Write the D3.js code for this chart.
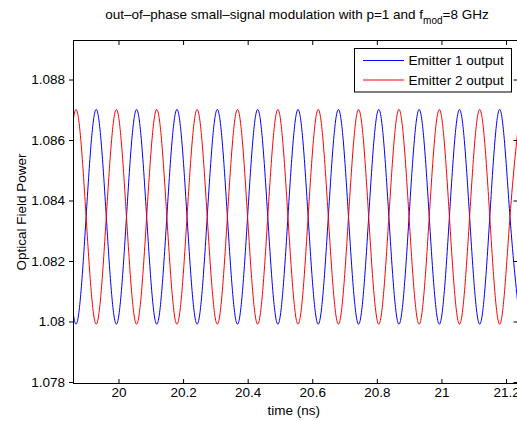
<!DOCTYPE html>
<html>
<head>
<meta charset="utf-8">
<script src="https://cdn.jsdelivr.net/npm/d3@7"></script>
<style>
  html, body { margin: 0; padding: 0; background: #fff; }
  svg { display: block; font-family: "Liberation Sans", Arial, sans-serif; }
</style>
</head>
<body>
<svg id="chart" width="517" height="421"></svg>
<script>
// Sample times (ns), one every quarter modulation period (8 GHz -> 0.125 ns)
const timeNs = [
  19.83725, 19.86850, 19.89975, 19.93100, 19.96225, 19.99350, 20.02475, 20.05600,
  20.08725, 20.11850, 20.14975, 20.18100, 20.21225, 20.24350, 20.27475, 20.30600,
  20.33725, 20.36850, 20.39975, 20.43100, 20.46225, 20.49350, 20.52475, 20.55600,
  20.58725, 20.61850, 20.64975, 20.68100, 20.71225, 20.74350, 20.77475, 20.80600,
  20.83725, 20.86850, 20.89975, 20.93100, 20.96225, 20.99350, 21.02475, 21.05600,
  21.08725, 21.11850, 21.14975, 21.18100, 21.21225, 21.24350
];

// Optical field power of emitter 1 (blue)
const emitter1 = [
  1.08346, 1.07991, 1.08346, 1.08701, 1.08346, 1.07991, 1.08346, 1.08701,
  1.08346, 1.07991, 1.08346, 1.08701, 1.08346, 1.07991, 1.08346, 1.08701,
  1.08346, 1.07991, 1.08346, 1.08701, 1.08346, 1.07991, 1.08346, 1.08701,
  1.08346, 1.07991, 1.08346, 1.08701, 1.08346, 1.07991, 1.08346, 1.08701,
  1.08346, 1.07991, 1.08346, 1.08701, 1.08346, 1.07991, 1.08346, 1.08701,
  1.08346, 1.07991, 1.08346, 1.08701, 1.08346, 1.07991
];

// Optical field power of emitter 2 (red), driven out of phase
const emitter2 = [
  1.08346, 1.08701, 1.08346, 1.07991, 1.08346, 1.08701, 1.08346, 1.07991,
  1.08346, 1.08701, 1.08346, 1.07991, 1.08346, 1.08701, 1.08346, 1.07991,
  1.08346, 1.08701, 1.08346, 1.07991, 1.08346, 1.08701, 1.08346, 1.07991,
  1.08346, 1.08701, 1.08346, 1.07991, 1.08346, 1.08701, 1.08346, 1.07991,
  1.08346, 1.08701, 1.08346, 1.07991, 1.08346, 1.08701, 1.08346, 1.07991,
  1.08346, 1.08701, 1.08346, 1.07991, 1.08346, 1.08701
];

const xTicks = [20, 20.2, 20.4, 20.6, 20.8, 21, 21.2];
const xTickLabels = ["20", "20.2", "20.4", "20.6", "20.8", "21", "21.2"];
const yTicks = [1.078, 1.08, 1.082, 1.084, 1.086, 1.088];
const yTickLabels = ["1.078", "1.08", "1.082", "1.084", "1.086", "1.088"];

const seriesNames = ["Emitter 1 output", "Emitter 2 output"];
const seriesColors = ["#0000ff", "#ff0000"];

const xDomain = [19.8607, 21.2371];
const yDomain = [1.07795, 1.08929];

const svg = d3.select("#chart");
const plot = { left: 73.5, right: 518, top: 40.5, bottom: 383.5 };
const fontSize = 13.5;
const tickLen = 4.5;

const x = d3.scaleLinear().domain(xDomain).range([plot.left, plot.right]);
const y = d3.scaleLinear().domain(yDomain).range([plot.bottom, plot.top]);

svg.append("defs").append("clipPath").attr("id", "plot-clip")
  .append("rect")
  .attr("x", plot.left).attr("y", plot.top)
  .attr("width", plot.right - plot.left).attr("height", plot.bottom - plot.top);

// Traces
const line = d3.line()
  .x((d, i) => x(timeNs[i]))
  .y(d => y(d))
  .curve(d3.curveNatural);

const traces = svg.append("g").attr("clip-path", "url(#plot-clip)");
[emitter1, emitter2].forEach((vals, k) => {
  traces.append("path")
    .datum(vals)
    .attr("d", line)
    .attr("fill", "none")
    .attr("stroke", seriesColors[k])
    .attr("stroke-width", 1);
});

// Bottom axis (ticks pointing into the plot)
const xAxis = d3.axisBottom(x)
  .tickValues(xTicks)
  .tickFormat((d, i) => xTickLabels[i])
  .tickSizeInner(-tickLen)
  .tickSizeOuter(0)
  .tickPadding(4);
const gx = svg.append("g").attr("transform", `translate(0,${plot.bottom})`).call(xAxis);
gx.select(".domain").remove();
gx.selectAll("text").attr("font-size", fontSize).attr("font-family", null).attr("fill", "#000");
gx.selectAll("line").attr("stroke", "#000");

// Top axis ticks
const xTop = d3.axisTop(x).tickValues(xTicks).tickFormat("")
  .tickSizeInner(-tickLen).tickSizeOuter(0);
const gxt = svg.append("g").attr("transform", `translate(0,${plot.top})`).call(xTop);
gxt.select(".domain").remove();
gxt.selectAll("line").attr("stroke", "#000");

// Left axis
const yAxis = d3.axisLeft(y)
  .tickValues(yTicks)
  .tickFormat((d, i) => yTickLabels[i])
  .tickSizeInner(tickLen)
  .tickSizeOuter(0)
  .tickPadding(4);
const gy = svg.append("g").attr("transform", `translate(${plot.left},0)`).call(yAxis);
gy.select(".domain").remove();
gy.selectAll("text").attr("font-size", fontSize).attr("font-family", null).attr("fill", "#000");
gy.selectAll("line").attr("stroke", "#000");

// Right axis ticks
const yRight = d3.axisRight(y).tickValues(yTicks).tickFormat("")
  .tickSizeInner(-tickLen).tickSizeOuter(0);
const gyr = svg.append("g").attr("transform", `translate(${plot.right},0)`).call(yRight);
gyr.select(".domain").remove();
gyr.selectAll("line").attr("stroke", "#000");

// Axes box
svg.append("rect")
  .attr("x", plot.left).attr("y", plot.top)
  .attr("width", plot.right - plot.left).attr("height", plot.bottom - plot.top)
  .attr("fill", "none").attr("stroke", "#000").attr("stroke-width", 1);

// Axis labels
svg.append("text")
  .attr("x", (plot.left + plot.right) / 2 - 2)
  .attr("y", 415)
  .attr("text-anchor", "middle")
  .attr("font-size", fontSize)
  .text("time (ns)");

svg.append("text")
  .attr("transform", `translate(26,${(plot.top + plot.bottom) / 2}) rotate(-90)`)
  .attr("text-anchor", "middle")
  .attr("font-size", fontSize)
  .text("Optical Field Power");

// Title with subscript
const title = svg.append("text")
  .attr("x", 297)
  .attr("y", 19)
  .attr("text-anchor", "middle")
  .attr("font-size", fontSize);
title.append("tspan").text("out–of–phase small–signal modulation with p=1 and f");
title.append("tspan").attr("font-size", 10).attr("dy", 5).text("mod");
title.append("tspan").attr("dy", -5).text("=8 GHz");

// Legend
const legend = { x: 354.5, y: 48.5, w: 157, h: 43.5 };
const lg = svg.append("g");
lg.append("rect")
  .attr("x", legend.x).attr("y", legend.y)
  .attr("width", legend.w).attr("height", legend.h)
  .attr("fill", "#fff").attr("stroke", "#000").attr("stroke-width", 1);
seriesNames.forEach((name, i) => {
  const ly = legend.y + 12 + i * 19.5;
  lg.append("line")
    .attr("x1", legend.x + 8.5).attr("x2", legend.x + 49.5)
    .attr("y1", ly).attr("y2", ly)
    .attr("stroke", seriesColors[i]).attr("stroke-width", 1);
  lg.append("text")
    .attr("x", legend.x + 54)
    .attr("y", ly)
    .attr("dy", "0.35em")
    .attr("font-size", fontSize)
    .text(name);
});
</script>
</body>
</html>
